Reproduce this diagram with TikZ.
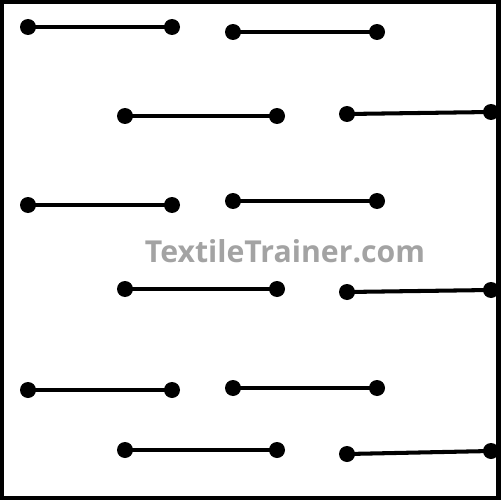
\documentclass[tikz,border=0pt]{standalone}
\usepackage{fontspec}
\newfontfamily\wmfont{Open Sans}
\definecolor{wmgray}{HTML}{A3A3A3}
\begin{document}
\begin{tikzpicture}[x=0.02cm,y=-0.02cm,
  dot/.style={circle,fill=black,inner sep=0pt,minimum size=0.32cm},
  seg/.style={line width=2.3pt,black}]
\useasboundingbox (0,0) rectangle (500,500);
\draw[line width=2.4pt] (1.5,1.5) rectangle (498.5,498.5);
\node[font=\wmfont\bfseries\fontsize{17.2}{20}\selectfont,text=wmgray] (wm) at (285,251) {TextileTrainer.com};
% row 1
\node[dot] (a1) at (28,27) {}; \node[dot] (a2) at (172,27) {};
\node[dot] (b1) at (233,32) {}; \node[dot] (b2) at (377,32) {};
% row 2
\node[dot] (c1) at (125,116) {}; \node[dot] (c2) at (277,116) {};
\node[dot] (d1) at (347,114) {}; \node[dot] (d2) at (491,112) {};
% row 3
\node[dot] (e1) at (28,205) {}; \node[dot] (e2) at (172,205) {};
\node[dot] (f1) at (233,201) {}; \node[dot] (f2) at (377,201) {};
% row 4
\node[dot] (g1) at (125,289) {}; \node[dot] (g2) at (277,289) {};
\node[dot] (h1) at (347,292) {}; \node[dot] (h2) at (491,290) {};
% row 5
\node[dot] (i1) at (28,390) {}; \node[dot] (i2) at (172,390) {};
\node[dot] (j1) at (233,388) {}; \node[dot] (j2) at (377,388) {};
% row 6
\node[dot] (k1) at (125,450) {}; \node[dot] (k2) at (277,450) {};
\node[dot] (l1) at (347,454) {}; \node[dot] (l2) at (491,451) {};
\foreach \p in {a,b,c,d,e,f,g,h,i,j,k,l}
  \draw[seg] (\p1.center) -- (\p2.center);
\end{tikzpicture}
\end{document}
